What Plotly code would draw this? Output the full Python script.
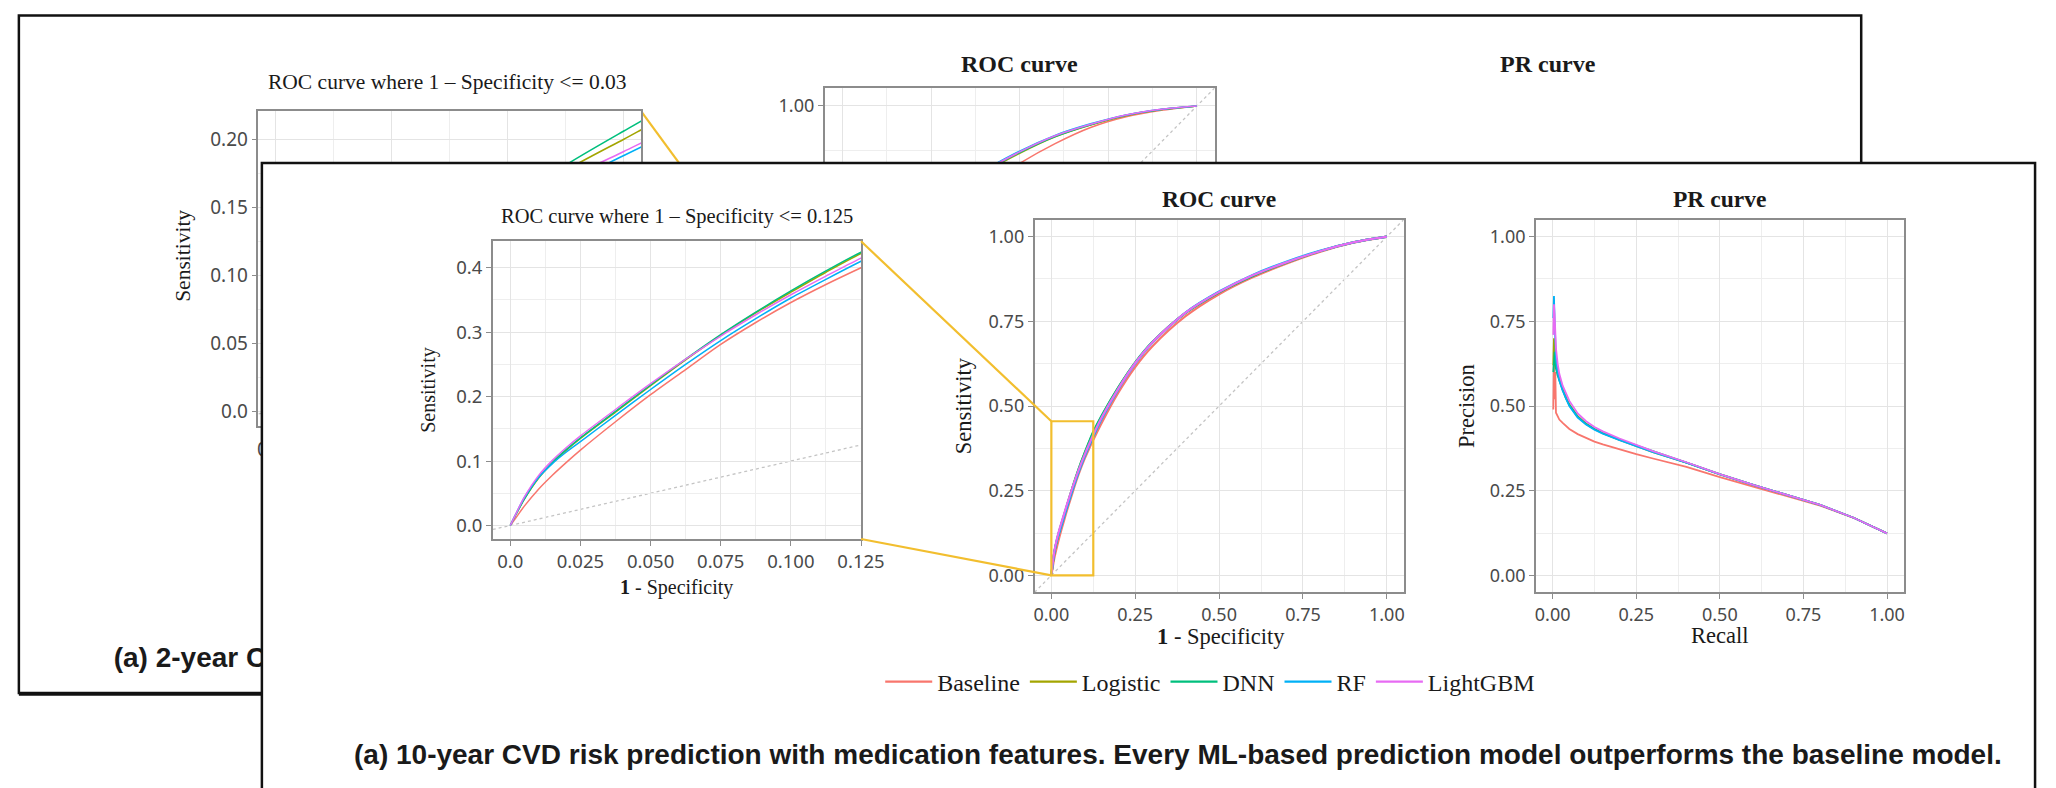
import plotly.graph_objects as go

W, H = 2056, 788

# ---------------- data ----------------
MODELS = ["Baseline", "Logistic", "DNN", "RF", "LightGBM"]
COLORS = ["#F8766D", "#A3A500", "#00BF7D", "#00B0F6", "#E76BF3"]

# 10-year ROC (1 - specificity, sensitivity)
FPR_10Y = [0, 0.002, 0.005, 0.01, 0.015, 0.02, 0.025, 0.0375, 0.05, 0.0625, 0.075, 0.0875,
           0.1, 0.1125, 0.125, 0.15, 0.2, 0.25, 0.3, 0.4, 0.5, 0.6, 0.7, 0.8, 0.9, 1.0]
TPR_10Y_BASELINE = [0, 0.012, 0.030, 0.056, 0.078, 0.098, 0.117, 0.161, 0.203, 0.242, 0.281, 0.315,
                    0.346, 0.374, 0.400, 0.45, 0.54, 0.615, 0.675, 0.765, 0.83, 0.88, 0.92, 0.955, 0.982, 1.0]
TPR_10Y_LOGISTIC = [0, 0.017, 0.041, 0.073, 0.097, 0.117, 0.135, 0.176, 0.217, 0.257, 0.295, 0.330,
                    0.362, 0.393, 0.422, 0.47, 0.555, 0.628, 0.687, 0.775, 0.836, 0.884, 0.923, 0.957, 0.983, 1.0]
TPR_10Y_DNN = [0, 0.017, 0.041, 0.074, 0.098, 0.118, 0.136, 0.177, 0.218, 0.258, 0.296, 0.331,
               0.364, 0.395, 0.424, 0.472, 0.556, 0.629, 0.688, 0.775, 0.836, 0.884, 0.923, 0.957, 0.983, 1.0]
TPR_10Y_RF = [0, 0.018, 0.043, 0.074, 0.096, 0.114, 0.130, 0.171, 0.211, 0.250, 0.287, 0.321,
              0.353, 0.382, 0.410, 0.462, 0.55, 0.625, 0.686, 0.776, 0.838, 0.887, 0.926, 0.958, 0.983, 1.0]
TPR_10Y_LIGHTGBM = [0, 0.018, 0.044, 0.077, 0.101, 0.121, 0.139, 0.180, 0.220, 0.258, 0.294, 0.327,
                    0.358, 0.387, 0.415, 0.466, 0.552, 0.627, 0.687, 0.776, 0.837, 0.886, 0.924, 0.957, 0.983, 1.0]

# 10-year PR (recall, precision)
RECALL_10Y = [0.002, 0.004, 0.006, 0.008, 0.01, 0.015, 0.02, 0.03, 0.04, 0.05, 0.075, 0.1,
              0.125, 0.15, 0.2, 0.25, 0.3, 0.4, 0.5, 0.6, 0.7, 0.8, 0.9, 1.0]
PREC_10Y_BASELINE = [0.49, 0.64, 0.52, 0.60, 0.48, 0.468, 0.46, 0.45, 0.44, 0.432, 0.417, 0.405,
                     0.395, 0.387, 0.372, 0.358, 0.345, 0.32, 0.29, 0.262, 0.235, 0.206, 0.17, 0.124]
PREC_10Y_LOGISTIC = [0.62, 0.70, 0.66, 0.64, 0.62, 0.60, 0.58, 0.55, 0.525, 0.505, 0.47, 0.448,
                     0.432, 0.42, 0.40, 0.382, 0.364, 0.333, 0.298, 0.267, 0.238, 0.208, 0.17, 0.124]
PREC_10Y_DNN = [0.60, 0.64, 0.66, 0.63, 0.61, 0.59, 0.575, 0.548, 0.522, 0.503, 0.468, 0.447,
                0.432, 0.42, 0.401, 0.384, 0.366, 0.334, 0.299, 0.267, 0.238, 0.208, 0.17, 0.124]
PREC_10Y_RF = [0.76, 0.825, 0.75, 0.68, 0.64, 0.60, 0.575, 0.545, 0.52, 0.50, 0.466, 0.445,
               0.43, 0.418, 0.399, 0.382, 0.364, 0.333, 0.298, 0.267, 0.238, 0.208, 0.17, 0.124]
PREC_10Y_LIGHTGBM = [0.71, 0.80, 0.77, 0.71, 0.67, 0.625, 0.595, 0.56, 0.535, 0.515, 0.478, 0.455,
                     0.438, 0.425, 0.404, 0.386, 0.367, 0.334, 0.299, 0.267, 0.238, 0.208, 0.17, 0.124]
PREVALENCE_10Y = 0.124

# 2-year ROC (back panel, mostly hidden)
FPR_2Y = [0, 0.002, 0.005, 0.01, 0.015, 0.02, 0.025, 0.03, 0.035, 0.05, 0.1, 0.2, 0.3, 0.4,
          0.5, 0.6, 0.7, 0.8, 0.9, 1.0]
TPR_2Y_BASELINE = [0, 0.011, 0.029, 0.060, 0.090, 0.122, 0.152, 0.172, 0.190, 0.25, 0.37, 0.53,
                   0.665, 0.775, 0.84, 0.895, 0.94, 0.97, 0.988, 1.0]
TPR_2Y_LOGISTIC = [0, 0.015, 0.038, 0.077, 0.111, 0.145, 0.177, 0.200, 0.223, 0.285, 0.425, 0.595,
                   0.718, 0.813, 0.868, 0.914, 0.947, 0.973, 0.99, 1.0]
TPR_2Y_DNN = [0, 0.016, 0.040, 0.080, 0.115, 0.150, 0.181, 0.206, 0.230, 0.29, 0.43, 0.60,
              0.72, 0.815, 0.87, 0.915, 0.948, 0.974, 0.99, 1.0]
TPR_2Y_RF = [0, 0.013, 0.033, 0.068, 0.100, 0.135, 0.167, 0.188, 0.209, 0.275, 0.415, 0.59,
             0.718, 0.818, 0.874, 0.918, 0.95, 0.975, 0.991, 1.0]
TPR_2Y_LIGHTGBM = [0, 0.013, 0.034, 0.070, 0.102, 0.138, 0.170, 0.191, 0.212, 0.28, 0.42, 0.595,
                   0.72, 0.817, 0.872, 0.917, 0.949, 0.975, 0.991, 1.0]

ROC_10Y = [TPR_10Y_BASELINE, TPR_10Y_LOGISTIC, TPR_10Y_DNN, TPR_10Y_RF, TPR_10Y_LIGHTGBM]
PR_10Y = [PREC_10Y_BASELINE, PREC_10Y_LOGISTIC, PREC_10Y_DNN, PREC_10Y_RF, PREC_10Y_LIGHTGBM]
ROC_2Y = [TPR_2Y_BASELINE, TPR_2Y_LOGISTIC, TPR_2Y_DNN, TPR_2Y_RF, TPR_2Y_LIGHTGBM]

ZOOM_10Y = (0.125, 0.455)   # zoomed window shown in the 10-year inset
ZOOM_2Y = (0.03, 0.22)      # zoomed window shown in the 2-year inset

FRONT_INSET_XTICKS = [0, 0.025, 0.05, 0.075, 0.1, 0.125]
FRONT_INSET_XLABELS = ["0.0", "0.025", "0.050", "0.075", "0.100", "0.125"]
BACK_INSET_YTICKS = [0, 0.05, 0.1, 0.15, 0.2]
BACK_INSET_YLABELS = ["0.0", "0.05", "0.10", "0.15", "0.20"]
BACK_INSET_XTICKS = [0, 0.01, 0.02, 0.03]
BACK_INSET_XLABELS = ["0.00", "", "", ""]          # only the first one peeks out
UNIT_TICKS = [0, 0.25, 0.5, 0.75, 1.0]
BACK_UNIT_YLABELS = ["", "", "", "", "1.00"]        # only 1.00 is visible on the back panel

CAPTION_FRONT = ("(a) 10-year CVD risk prediction with medication features. "
                 "Every ML-based prediction model outperforms the baseline model.")
CAPTION_BACK = "(a) 2-year CVD risk prediction"

# ---------------- styling / layout helpers ----------------
SERIF = "Liberation Serif, Times New Roman, serif"
SANS = "Noto Sans, Open Sans, sans-serif"
ARIAL = "Liberation Sans, Arial, sans-serif"
BORDER = "#8c8c8c"
GRID = "#e4e4e4"
GRID_MINOR = "#eeeeee"
TICKC = "#4a4a4a"
TXT = "#1a1a1a"
YELLOW = "#F2BE2E"


def fx(px):
    return px / W


def fy(py):
    return 1 - py / H


def to_paper(dom, rng, v):
    return dom[0] + (v - rng[0]) / (rng[1] - rng[0]) * (dom[1] - dom[0])


# subplot domains (paper)
DOM = {
    "b1": ([fx(252.5), fx(640)], [fy(418), fy(103.3)]),
    "b2": ([fx(825.7), fx(1220.5)], [fy(474.8), fy(80)]),
    "b3": ([fx(1360), fx(1754.5)], [fy(474.8), fy(80)]),
    "cover": ([fx(256), fx(2051)], [0, fy(155)]),
    "f1": ([fx(489.7), fx(862.5)], [fy(531), fy(233.3)]),
    "f2": ([fx(1038.2), fx(1411.8)], [fy(584.3), fy(211.7)]),
    "f3": ([fx(1545.7), fx(1918.1)], [fy(584.3), fy(211.7)]),
}
RNG = {
    "b1": ([-0.0015, 0.0315], [-0.0105, 0.2205]),
    "b2": ([-0.05, 1.05], [-0.05, 1.05]),
    "b3": ([-0.05, 1.05], [-0.05, 1.05]),
    "f1": ([-0.00625, 0.125], [-0.021, 0.441]),
    "f2": ([-0.05, 1.05], [-0.05, 1.05]),
    "f3": ([-0.05, 1.05], [-0.05, 1.05]),
}
AX = {"frame": 1, "b1": 2, "b2": 3, "b3": 4, "cover": 5, "f1": 6, "f2": 7, "f3": 8}


def minor(dt):
    return dict(dtick=dt, showgrid=True, gridcolor=GRID_MINOR, gridwidth=0.8)


def axis(key, which, fsize, extra):
    d = dict(
        domain=DOM[key][0 if which == "x" else 1],
        range=RNG[key][0 if which == "x" else 1],
        anchor=("y" if which == "x" else "x") + str(AX[key]),
        showline=True, mirror=True, linecolor=BORDER, linewidth=1.5,
        ticks="outside", ticklen=5, tickwidth=1.3, tickcolor=BORDER,
        tickfont=dict(family=SANS, size=fsize, color=TICKC),
        showgrid=True, gridcolor=GRID, gridwidth=1.2, zeroline=False,
        fixedrange=True,
    )
    d.update(extra)
    return d


fig = go.Figure()

# back caption (its right part is hidden by the front panel cover)
fig.add_trace(go.Scatter(
    x=[fx(106)], y=[fy(652)], mode="text", text=["<b>" + CAPTION_BACK + "</b>"],
    textposition="middle right", textfont=dict(family=ARIAL, size=28, color=TXT),
    xaxis="x", yaxis="y", showlegend=False, hoverinfo="skip", cliponaxis=False))

# back panel curves
for m, col, tpr in zip(MODELS, COLORS, ROC_2Y):
    for key in ("b1", "b2"):
        n = AX[key]
        fig.add_trace(go.Scatter(
            x=FPR_2Y, y=tpr, mode="lines", line=dict(color=col, width=1.6, shape="spline", smoothing=0.6),
            xaxis="x%d" % n, yaxis="y%d" % n, showlegend=False, hoverinfo="skip", legendgroup=m))

# empty trace that creates the white "cover" subplot of the front panel
fig.add_trace(go.Scatter(x=[0.5], y=[0.5], mode="none", xaxis="x5", yaxis="y5",
                         showlegend=False, hoverinfo="skip"))

# front panel curves
for m, col, tpr, prec in zip(MODELS, COLORS, ROC_10Y, PR_10Y):
    fig.add_trace(go.Scatter(
        x=FPR_10Y, y=tpr, mode="lines", line=dict(color=col, width=1.5, shape="spline", smoothing=0.8),
        xaxis="x6", yaxis="y6", showlegend=False, hoverinfo="skip", legendgroup=m))
    fig.add_trace(go.Scatter(
        x=FPR_10Y, y=tpr, mode="lines", name=m,
        line=dict(color=col, width=2.2, shape="spline", smoothing=0.8),
        xaxis="x7", yaxis="y7", showlegend=True, legendgroup=m))
    fig.add_trace(go.Scatter(
        x=RECALL_10Y, y=prec, mode="lines", line=dict(color=col, width=1.8),
        xaxis="x8", yaxis="y8", showlegend=False, hoverinfo="skip", legendgroup=m))

unit_ticks = dict(tickmode="linear", tick0=0, dtick=0.25, tickformat=".2f", minor=minor(0.125))
back_x_ticks = dict(tickmode="array", tickvals=UNIT_TICKS, ticktext=["", "", "", "", ""], minor=minor(0.125))
back_y_ticks = dict(tickmode="array", tickvals=UNIT_TICKS, ticktext=BACK_UNIT_YLABELS, minor=minor(0.125))

layout_axes = {
    "xaxis": dict(domain=[0, 1], range=[0, 1], visible=False, fixedrange=True, anchor="y"),
    "yaxis": dict(domain=[0, 1], range=[0, 1], visible=False, fixedrange=True, anchor="x"),
    "xaxis2": axis("b1", "x", 19, dict(tickmode="array", tickvals=BACK_INSET_XTICKS,
                                       ticktext=BACK_INSET_XLABELS, minor=minor(0.005))),
    "yaxis2": axis("b1", "y", 19, dict(tickmode="array", tickvals=BACK_INSET_YTICKS,
                                       ticktext=BACK_INSET_YLABELS, minor=minor(0.025))),
    "xaxis3": axis("b2", "x", 18, back_x_ticks),
    "yaxis3": axis("b2", "y", 18, back_y_ticks),
    "xaxis4": axis("b3", "x", 18, back_x_ticks),
    "yaxis4": axis("b3", "y", 18, back_y_ticks),
    "xaxis5": dict(domain=DOM["cover"][0], range=[0, 1], visible=False, fixedrange=True, anchor="y5"),
    "yaxis5": dict(domain=DOM["cover"][1], range=[0, 1], visible=False, fixedrange=True, anchor="x5"),
    "xaxis6": axis("f1", "x", 18.5, dict(tickmode="array", tickvals=FRONT_INSET_XTICKS,
                                         ticktext=FRONT_INSET_XLABELS, minor=minor(0.0125))),
    "yaxis6": axis("f1", "y", 18.5, dict(tickmode="linear", tick0=0, dtick=0.1, tickformat=".1f",
                                         minor=minor(0.05))),
    "xaxis7": axis("f2", "x", 18, unit_ticks),
    "yaxis7": axis("f2", "y", 18, unit_ticks),
    "xaxis8": axis("f3", "x", 18, unit_ticks),
    "yaxis8": axis("f3", "y", 18, unit_ticks),
}

# ---------------- shapes ----------------
DOT = dict(color="#c4c4c4", width=1.3, dash="dot")
shapes = []
# back panel border (under everything), with a heavier bottom edge
shapes.append(dict(type="rect", xref="paper", yref="paper", x0=fx(10), x1=fx(1875), y0=fy(685), y1=fy(7.5),
                   line=dict(color="#111111", width=2.5), fillcolor="rgba(0,0,0,0)", layer="below"))
shapes.append(dict(type="line", xref="paper", yref="paper", x0=fx(10), x1=fx(1875), y0=fy(686), y1=fy(686),
                   line=dict(color="#111111", width=3.5), layer="below"))
# back chance lines
for key in ("b1", "b2"):
    n = AX[key]
    r = RNG[key][0]
    shapes.append(dict(type="line", xref="x%d" % n, yref="y%d" % n, x0=r[0], y0=r[0], x1=r[1], y1=r[1],
                       line=DOT, layer="below"))
# back zoom box + connectors
shapes.append(dict(type="rect", xref="x3", yref="y3", x0=0, x1=ZOOM_2Y[0], y0=0, y1=ZOOM_2Y[1],
                   line=dict(color=YELLOW, width=2), layer="below"))
b1x, b1y = DOM["b1"]
b2x, b2y = DOM["b2"]
bx0 = to_paper(b2x, RNG["b2"][0], 0)
shapes.append(dict(type="line", xref="paper", yref="paper", x0=b1x[1], y0=b1y[1],
                   x1=bx0, y1=to_paper(b2y, RNG["b2"][1], ZOOM_2Y[1]),
                   line=dict(color=YELLOW, width=2.2), layer="below"))
shapes.append(dict(type="line", xref="paper", yref="paper", x0=b1x[1], y0=b1y[0],
                   x1=bx0, y1=to_paper(b2y, RNG["b2"][1], 0),
                   line=dict(color=YELLOW, width=2.2), layer="below"))

# front chance lines and PR prevalence line
for key in ("f1", "f2"):
    n = AX[key]
    r = RNG["f2"][0]
    shapes.append(dict(type="line", xref="x%d" % n, yref="y%d" % n, x0=r[0], y0=r[0], x1=r[1], y1=r[1],
                       line=DOT, layer="below"))
shapes.append(dict(type="line", xref="x8 domain", yref="y8", x0=0, x1=1, y0=PREVALENCE_10Y, y1=PREVALENCE_10Y,
                   line=DOT, layer="below"))

# front panel border
shapes.append(dict(type="rect", xref="paper", yref="paper", x0=fx(256), x1=fx(2051), y0=-0.05, y1=fy(155),
                   line=dict(color="#111111", width=2.5), fillcolor="rgba(0,0,0,0)", layer="above"))
# front zoom box and connectors
shapes.append(dict(type="rect", xref="x7", yref="y7", x0=0, x1=ZOOM_10Y[0], y0=0, y1=ZOOM_10Y[1],
                   line=dict(color=YELLOW, width=2.2), layer="above"))
f1x, f1y = DOM["f1"]
f2x, f2y = DOM["f2"]
fx0 = to_paper(f2x, RNG["f2"][0], 0)
shapes.append(dict(type="line", xref="paper", yref="paper", x0=f1x[1], y0=f1y[1],
                   x1=fx0, y1=to_paper(f2y, RNG["f2"][1], ZOOM_10Y[1]),
                   line=dict(color=YELLOW, width=2.2), layer="above"))
shapes.append(dict(type="line", xref="paper", yref="paper", x0=f1x[1], y0=f1y[0],
                   x1=fx0, y1=to_paper(f2y, RNG["f2"][1], 0),
                   line=dict(color=YELLOW, width=2.2), layer="above"))


# ---------------- annotations ----------------
def ann(text, x, y, size, angle=0, family=SERIF, xanchor="center"):
    return dict(text=text, x=fx(x), y=fy(y), xref="paper", yref="paper", showarrow=False,
                xanchor=xanchor, yanchor="middle", textangle=angle,
                font=dict(family=family, size=size, color=TXT))


annotations = [
    # back panel (visible parts)
    ann("ROC curve where 1 \u2013 Specificity &lt;= 0.03", 444, 74, 21.5),
    ann("<b>ROC curve</b>", 1023, 56, 24),
    ann("<b>PR curve</b>", 1558, 56, 24),
    ann("Sensitivity", 176, 248, 21.5, angle=-90),
    # front panel
    ann("ROC curve where 1 \u2013 Specificity &lt;= 0.125", 676, 209, 20.5),
    ann("Sensitivity", 424, 382, 20, angle=-90),
    ann("<b>1</b> - Specificity", 676, 579, 20),
    ann("<b>ROC curve</b>", 1225, 191, 23.5),
    ann("Sensitivity", 966, 398, 22.5, angle=-90),
    ann("<b>1</b> - Specificity", 1227, 628, 22.5),
    ann("<b>PR curve</b>", 1732, 191, 23.5),
    ann("Precision", 1475, 398, 22.5, angle=-90),
    ann("Recall", 1732, 627, 22.5),
    ann("<b>" + CAPTION_FRONT + "</b>", 347, 746, 28, family=ARIAL, xanchor="left"),
]

fig.update_layout(
    width=W, height=H,
    margin=dict(l=0, r=0, t=0, b=0),
    paper_bgcolor="white", plot_bgcolor="white",
    font=dict(family=SERIF, color=TXT),
    showlegend=True,
    legend=dict(orientation="h", x=fx(1216), y=fy(674), xanchor="center", yanchor="middle",
                font=dict(family=SERIF, size=24, color=TXT), bgcolor="rgba(0,0,0,0)",
                itemwidth=47, traceorder="normal"),
    hovermode=False,
    shapes=shapes,
    annotations=annotations,
    **layout_axes,
)

fig.write_html("out.html")
